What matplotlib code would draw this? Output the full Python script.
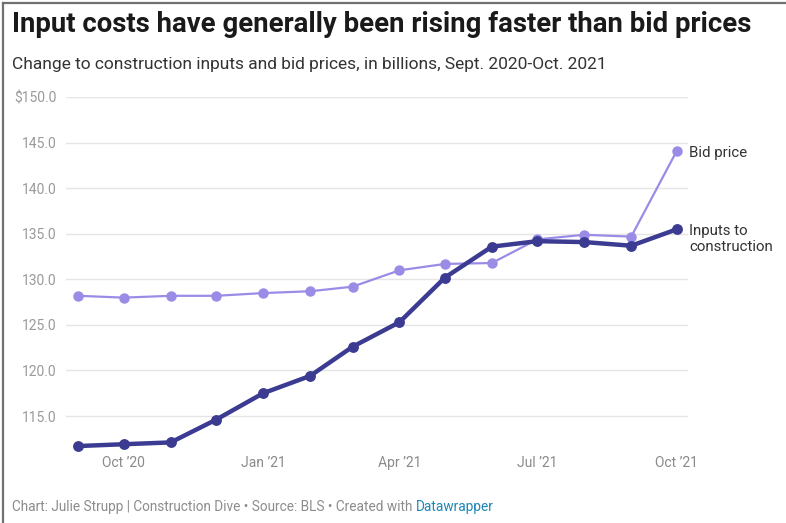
import matplotlib
matplotlib.use("Agg")
import matplotlib.pyplot as plt
import matplotlib.dates as mdates
import datetime as dt

months = ["2020-09", "2020-10", "2020-11", "2020-12", "2021-01", "2021-02", "2021-03",
          "2021-04", "2021-05", "2021-06", "2021-07", "2021-08", "2021-09", "2021-10"]
inputs = [111.7, 111.9, 112.1, 114.6, 117.5, 119.4, 122.6,
          125.3, 130.2, 133.6, 134.2, 134.1, 133.7, 135.5]
bid_price = [128.2, 128.0, 128.2, 128.2, 128.5, 128.7, 129.2,
             131.0, 131.7, 131.8, 134.4, 134.9, 134.7, 144.1]
yticks = [115, 120, 125, 130, 135, 140, 145, 150]
ytick_labels = ["115.0", "120.0", "125.0", "130.0", "135.0", "140.0", "145.0", "$150.0"]
xtick_dates = ["2020-10", "2021-01", "2021-04", "2021-07", "2021-10"]
xtick_labels = ["Oct \u201920", "Jan \u201921", "Apr \u201921", "Jul \u201921", "Oct \u201921"]

title = "Input costs have generally been rising faster than bid prices"
subtitle = "Change to construction inputs and bid prices, in billions, Sept. 2020-Oct. 2021"
footer = "Chart: Julie Strupp | Construction Dive \u2022 Source: BLS \u2022 Created with "
footer_link = "Datawrapper"

def to_date(s):
    y, m = s.split("-")
    return dt.datetime(int(y), int(m), 1)

dates = [to_date(m) for m in months]
xt = [to_date(m) for m in xtick_dates]

W, H = 786, 523
fig = plt.figure(figsize=(W / 100, H / 100), dpi=100)
fig.patch.set_facecolor("white")
plt.rcParams['font.family'] = ['Roboto', 'DejaVu Sans']

ax_l, ax_r = 66, 688
ax_top, ax_bot = 97.3, 452
ax = fig.add_axes([ax_l / W, 1 - ax_bot / H, (ax_r - ax_l) / W, (ax_bot - ax_top) / H])

px_per_unit = (416 - 97.3) / 35.0
ymin = 150 - (ax_bot - ax_top) / px_per_unit
ax.set_ylim(ymin, 150)

px_per_day = (676.7 - 78.3) / (dates[-1] - dates[0]).days
left_days = (78.3 - ax_l) / px_per_day
right_days = (ax_r - 676.7) / px_per_day
ax.set_xlim(mdates.date2num(dates[0]) - left_days, mdates.date2num(dates[-1]) + right_days)

for s in ax.spines.values():
    s.set_visible(False)
ax.set_yticks(yticks)
ax.set_yticklabels(ytick_labels)
ax.tick_params(axis="y", length=0, pad=7, labelsize=10, labelcolor="#9a9a9a")
ax.set_xticks(xt)
ax.set_xticklabels(xtick_labels)
ax.tick_params(axis="x", length=0, pad=3, labelsize=10, labelcolor="#8a8a8a")
ax.grid(axis="y", color="#e5e5e5", linewidth=1.0)
ax.set_axisbelow(True)

bid_col = "#9a8ce6"
inp_col = "#3c3b92"
ax.plot(dates, bid_price, color=bid_col, linewidth=1.6, marker="o", markersize=6.5,
        clip_on=False, zorder=3)
ax.plot(dates, inputs, color=inp_col, linewidth=3.2, marker="o", markersize=6.8,
        clip_on=False, zorder=4)

fig.text(689 / W, 1 - 153 / H, "Bid price", fontsize=10.8,
         color="#333333", va="center", ha="left")
fig.text(689 / W, 1 - 239 / H, "Inputs to\nconstruction",
         fontsize=10.8, color="#333333", va="center", ha="left", linespacing=1.1)

fig.text(12 / W, 1 - 25 / H, title, fontsize=19.8, fontweight="bold", color="#1a1a1a",
         va="center", ha="left")
fig.text(12 / W, 1 - 64 / H, subtitle, fontsize=12.5, color="#333333",
         va="center", ha="left")
ft = fig.text(12 / W, 1 - 507 / H, footer, fontsize=9.8, color="#8c8c8c", va="center", ha="left")
fig.canvas.draw()
r = ft.get_window_extent()
fig.text(r.x1 / W, 1 - 507 / H, footer_link, fontsize=9.8, color="#1d86b8",
         va="center", ha="left")

fig.add_artist(plt.Line2D([3 / W, 3 / W], [0, 1 - 3 / H], transform=fig.transFigure,
                          color="#707070", linewidth=1.6))
fig.add_artist(plt.Line2D([3 / W, 1], [1 - 3 / H, 1 - 3 / H], transform=fig.transFigure,
                          color="#707070", linewidth=1.6))

fig.savefig("out.png", dpi=100, facecolor="white")
